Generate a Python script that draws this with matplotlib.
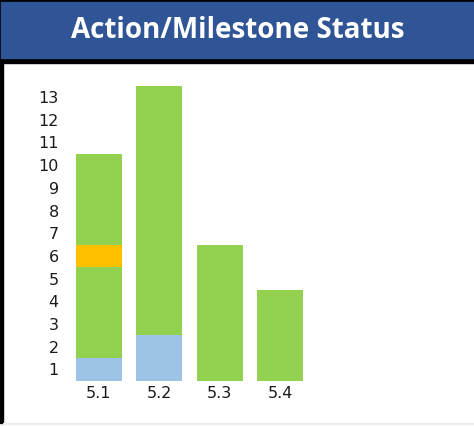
import matplotlib
matplotlib.use("Agg")
import matplotlib.pyplot as plt
from matplotlib.patches import Rectangle

# stacked counts per milestone (bottom -> top)
categories = ["5.1", "5.2", "5.3", "5.4"]
complete = [1, 2, 0, 0]      # light blue
on_track_low = [4, 11, 6, 4]  # green
at_risk = [1, 0, 0, 0]       # amber
on_track_high = [4, 0, 0, 0]  # green
y_ticks = list(range(1, 14))

BLUE = "#9DC3E6"
GREEN = "#92D050"
AMBER = "#FFC000"
TITLE_BG = "#2F5597"

W, H = 474, 426
fig = plt.figure(figsize=(W / 100, H / 100), dpi=100)
fig.patch.set_facecolor("white")

def px_rect(x0, y0, x1, y1, color):
    # pixel coords measured from top-left
    fig.patches.append(Rectangle((x0 / W, 1 - y1 / H), (x1 - x0) / W, (y1 - y0) / H,
                                 transform=fig.transFigure, color=color, zorder=0))

px_rect(0, 0, W, 63, "black")
px_rect(0, 0, 3, 423, "black")
px_rect(1, 2, W, 57.5, TITLE_BG)
px_rect(3, 423, W, 424, "#EEEEEE")
fig.text(238 / W, 1 - 30 / H, "Action/Milestone Status", color="white",
         fontsize=20, fontweight="bold", family="Open Sans", ha="center", va="center")

ax = fig.add_axes([65 / W, 1 - 380.7 / H, (470 - 65) / W, (380.7 - 63) / H])
ax.patch.set_alpha(0)
x = list(range(len(categories)))
bottom = [0] * len(categories)
for vals, col in [(complete, BLUE), (on_track_low, GREEN), (at_risk, AMBER), (on_track_high, GREEN)]:
    ax.bar(x, vals, bottom=bottom, width=0.76, color=col, linewidth=0)
    bottom = [b + v for b, v in zip(bottom, vals)]

ax.set_xlim(-0.561, 6.14)
ax.set_ylim(0, 14)
ax.set_xticks(x)
ax.set_xticklabels(categories, fontsize=11.5, color="#1a1a1a")
ax.set_yticks([t - 0.5 for t in y_ticks])
ax.set_yticklabels([str(t) for t in y_ticks], fontsize=11.5, color="#1a1a1a")
ax.tick_params(length=0)
ax.tick_params(axis="y", pad=4.5)
ax.tick_params(axis="x", pad=3.5)
for s in ax.spines.values():
    s.set_visible(False)

fig.savefig("out.png", dpi=100)
